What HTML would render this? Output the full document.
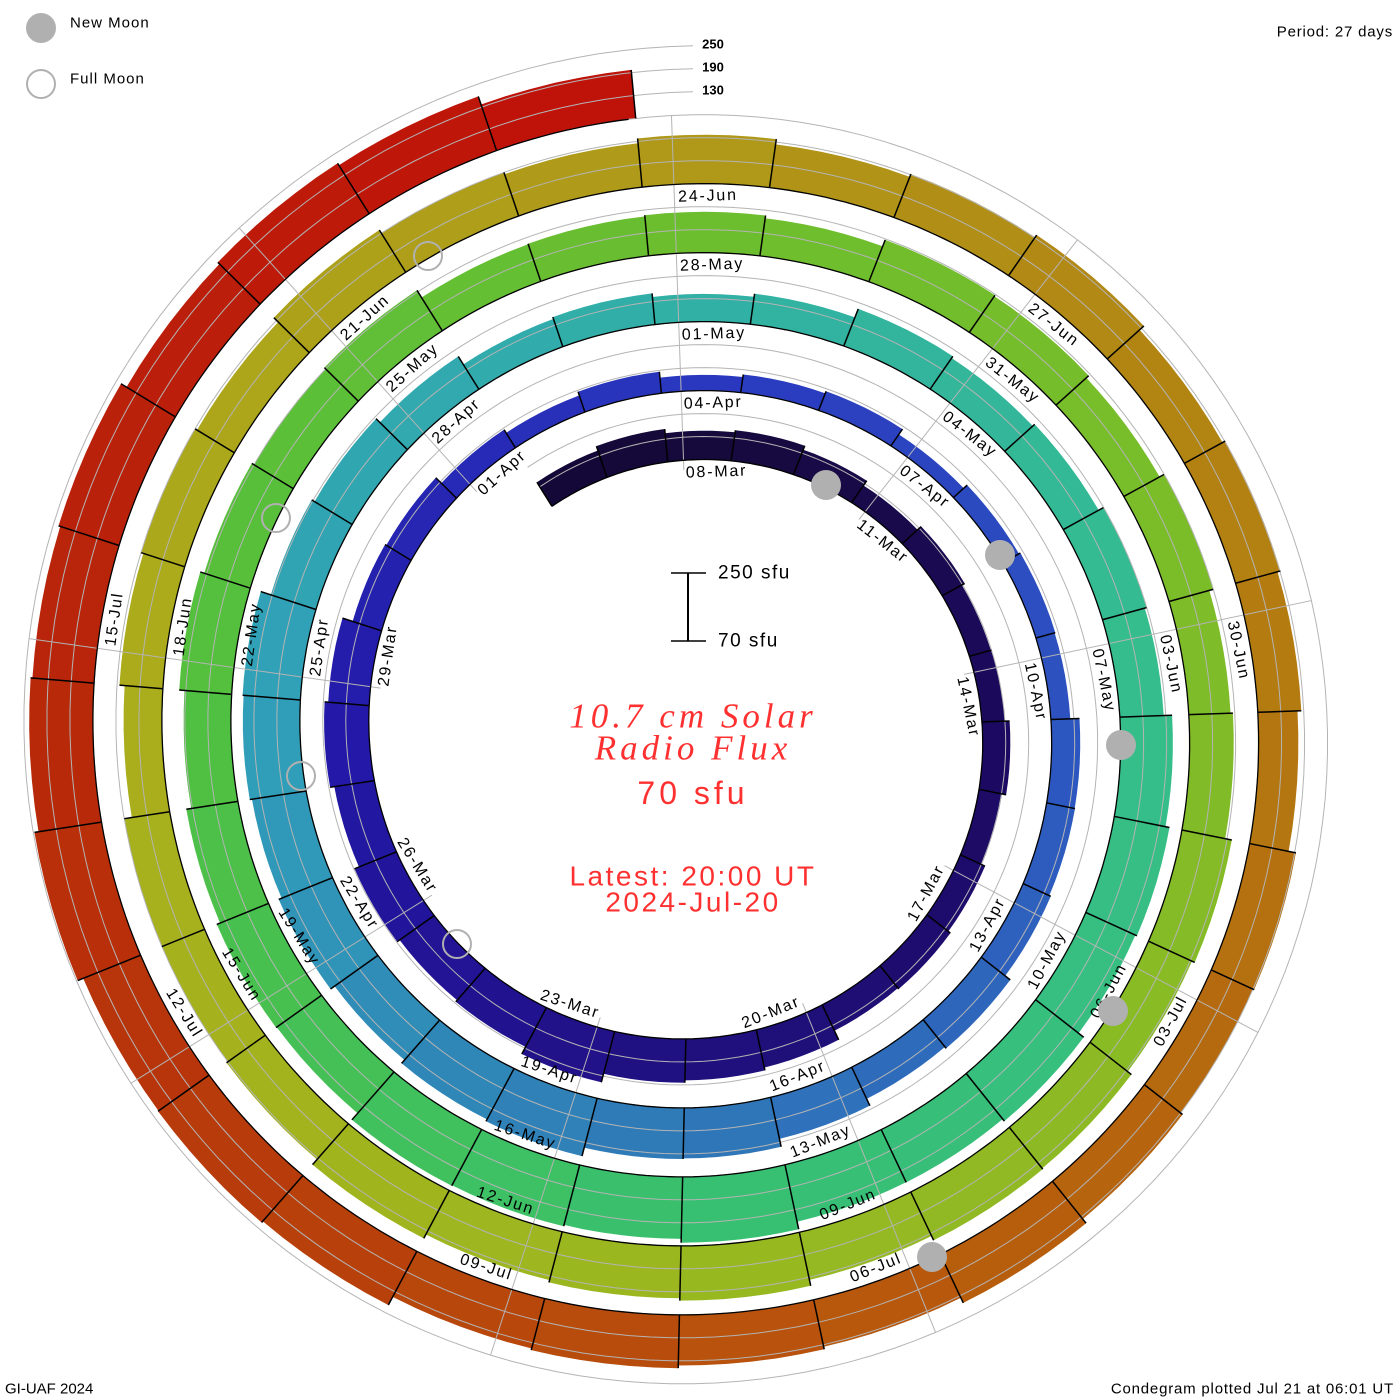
<!DOCTYPE html>
<html><head><meta charset="utf-8"><style>
html,body{margin:0;padding:0;background:#fff;}
svg{display:block;}
text{font-family:"Liberation Sans",sans-serif;}
</style></head><body>
<svg id="s" width="1400" height="1400" viewBox="0 0 1400 1400" xmlns="http://www.w3.org/2000/svg">
<rect width="1400" height="1400" fill="#fff"/>
<g id="bars"></g><g id="grid"></g><g id="lines"></g><g id="labels"></g>
<g id="moons"></g>
<circle cx="41" cy="28" r="15" fill="#b0b0b0"/>
<circle cx="41" cy="84" r="14" fill="none" stroke="#b0b0b0" stroke-width="2"/>
<text x="70" y="23" font-size="15" dominant-baseline="central" letter-spacing="1">New Moon</text>
<text x="70" y="79" font-size="15" dominant-baseline="central" letter-spacing="1">Full Moon</text>
<text x="1393" y="32" font-size="15" text-anchor="end" dominant-baseline="central" letter-spacing="0.8">Period: 27 days</text>
<text x="713" y="44" font-size="13" font-weight="bold" text-anchor="middle" dominant-baseline="central">250</text>
<text x="713" y="67" font-size="13" font-weight="bold" text-anchor="middle" dominant-baseline="central">190</text>
<text x="713" y="90" font-size="13" font-weight="bold" text-anchor="middle" dominant-baseline="central">130</text>
<text x="5" y="1389" font-size="15" dominant-baseline="central">GI-UAF 2024</text>
<text x="1394" y="1389" font-size="15" text-anchor="end" dominant-baseline="central" letter-spacing="0.8">Condegram plotted Jul 21 at 06:01 UT</text>
<line x1="671" y1="573" x2="706" y2="573" stroke="#000" stroke-width="1.5"/>
<line x1="671" y1="641" x2="706" y2="641" stroke="#000" stroke-width="1.5"/>
<line x1="688" y1="573" x2="688" y2="641" stroke="#000" stroke-width="2"/>
<text x="718" y="573" font-size="19" dominant-baseline="central" letter-spacing="1.5">250 sfu</text>
<text x="718" y="641" font-size="19" dominant-baseline="central" letter-spacing="1.5">70 sfu</text>
<text x="693" y="716" font-size="35" font-style="italic" fill="#ff3030" text-anchor="middle" dominant-baseline="central" style="font-family:'Liberation Serif',serif" letter-spacing="4">10.7 cm Solar</text>
<text x="693" y="748" font-size="35" font-style="italic" fill="#ff3030" text-anchor="middle" dominant-baseline="central" style="font-family:'Liberation Serif',serif" letter-spacing="4">Radio Flux</text>
<text x="693" y="793" font-size="32" fill="#ff3030" text-anchor="middle" dominant-baseline="central" letter-spacing="4">70 sfu</text>
<text x="693" y="876" font-size="28" fill="#ff3030" text-anchor="middle" dominant-baseline="central" letter-spacing="2.5">Latest: 20:00 UT</text>
<text x="693" y="902" font-size="28" fill="#ff3030" text-anchor="middle" dominant-baseline="central" letter-spacing="2.5">2024-Jul-20</text>
</svg>
<script>
(function(){
var NS="http://www.w3.org/2000/svg";
var cx=693,cy=732,a=272.25,b=69/360;
function R(t){return a+b*t;}
function P(t,r){var s=t*Math.PI/180;return [cx+r*Math.sin(s),cy-r*Math.cos(s)];}
function f(p){return p[0].toFixed(1)+","+p[1].toFixed(1);}
function el(g,tag,attrs,txt){var e=document.createElementNS(NS,tag);for(var k in attrs)e.setAttribute(k,attrs[k]);if(txt!==undefined)e.textContent=txt;document.getElementById(g).appendChild(e);return e;}
var anch=[[-32,28],[0,30],[45,25],[90,22],[135,30],[180,41],[200,49],[230,45],[270,42],[315,25],[360,16],[405,18],[450,23],[495,35],[540,50],[560,56],[630,58],[675,40],[720,27],[765,40],[810,50],[855,58],[900,65],[945,58],[990,51],[1035,45],[1080,40],[1125,42],[1170,46],[1215,50],[1260,55],[1305,48],[1350,43],[1395,45],[1440,48],[1485,45],[1530,44],[1575,48],[1620,52],[1665,60],[1710,67],[1755,58],[1800,49]];
function H(t){for(var i=0;i<anch.length-1;i++){if(t<=anch[i+1][0]){var u=(t-anch[i][0])/(anch[i+1][0]-anch[i][0]);return anch[i][1]+u*(anch[i+1][1]-anch[i][1]);}}return 49;}
var pal=[[-32,"#130838"],[0,"#150a3a"],[90,"#1c0a60"],[180,"#20107f"],[270,"#2318a8"],[360,"#2a38c0"],[450,"#2d55c0"],[540,"#2f78b8"],[630,"#309fb8"],[720,"#31b0a6"],[810,"#35be8a"],[900,"#38c070"],[990,"#50c040"],[1080,"#6cbe2e"],[1170,"#80bc28"],[1260,"#9ab820"],[1350,"#aaae1c"],[1440,"#b09818"],[1530,"#b47810"],[1620,"#b8500c"],[1710,"#b8280a"],[1800,"#c0100a"]];
function hx(c){return [parseInt(c.substr(1,2),16),parseInt(c.substr(3,2),16),parseInt(c.substr(5,2),16)];}
function C(t){for(var i=0;i<pal.length-1;i++){if(t<=pal[i+1][0]){var u=(t-pal[i][0])/(pal[i+1][0]-pal[i][0]);var A=hx(pal[i][1]),B=hx(pal[i+1][1]);return "rgb("+A.map(function(v,j){return Math.round(v+u*(B[j]-v));}).join(",")+")";}}return pal[pal.length-1][1];}
var dt=360/27,t0=-32,N=137,hs=[];
for(var k=0;k<N;k++){var tm=t0+dt*(k+0.5);var j=Math.sin(k*2.3)*3+Math.sin(k*0.9)*2;hs.push(Math.max(10,H(tm)+j));}
for(var k=0;k<N;k++){var ta=t0+dt*k,tb=ta+dt,h=hs[k];var pts=[],n=6;
 for(var i=0;i<=n;i++){var t=ta+(tb-ta)*i/n;pts.push(f(P(t,R(t))));}
 for(var i=n;i>=0;i--){var t=ta+(tb-ta)*i/n;pts.push(f(P(t,R(t)+h)));}
 el("bars","polygon",{points:pts.join(" "),fill:C(ta+dt/2)});}
[23,46,69].forEach(function(h){var pts=[];for(var t=-32;t<=1800;t+=2){pts.push(f(P(t,R(t)+h)));}
 el("grid","polyline",{points:pts.join(" "),fill:"none",stroke:"#b4b4b4","stroke-width":1});});
for(var t=-2;t<350;t+=40){var p1=P(t,R(t)-10),p2=P(t,R(t+1440)+69);el("grid","line",{x1:p1[0],y1:p1[1],x2:p2[0],y2:p2[1],stroke:"#b4b4b4","stroke-width":1});}
var bp=[];for(var t=-32;t<=t0+dt*N;t+=1){bp.push(f(P(t,R(t))));}
el("lines","polyline",{points:bp.join(" "),fill:"none",stroke:"#000","stroke-width":1.3});
for(var k=0;k<=N;k++){var t=t0+dt*k;var h=Math.max(k>0?hs[k-1]:0,k<N?hs[k]:0);var p1=P(t,R(t)),p2=P(t,R(t)+h);el("lines","line",{x1:p1[0],y1:p1[1],x2:p2[0],y2:p2[1],stroke:"#000","stroke-width":1.5});}
var months=[["Mar",31],["Apr",30],["May",31],["Jun",30],["Jul",31]];
for(var d=0;d<=129;d+=3){var day=8+d,mi=0;while(day>months[mi][1]){day-=months[mi][1];mi++;}
 var lab=(day<10?"0":"")+day+"-"+months[mi][0];var t=-2+dt*d;var r=R(t)-13;
 var nrm=((t%360)+360)%360;var flip=nrm>95&&nrm<265;var rot=flip?nrm-180:nrm;var tt=t+0.4;var p=P(tt,r);
 el("labels","text",{x:p[0].toFixed(1),y:p[1].toFixed(1),"font-size":16,"letter-spacing":"1.8","dominant-baseline":"central","text-anchor":flip?"end":"start",transform:"rotate("+rot.toFixed(1)+" "+p[0].toFixed(1)+" "+p[1].toFixed(1)+")"},lab);}
[[826,485],[1000,555],[1121,745],[1113,1011],[932,1257]].forEach(function(c){el("moons","circle",{cx:c[0],cy:c[1],r:15,fill:"#b0b0b0"});});
[[428,256],[276,518],[301,776],[457,944]].forEach(function(c){el("moons","circle",{cx:c[0],cy:c[1],r:14,fill:"none",stroke:"#b0b0b0","stroke-width":2});});
})();
</script>
</body></html>
